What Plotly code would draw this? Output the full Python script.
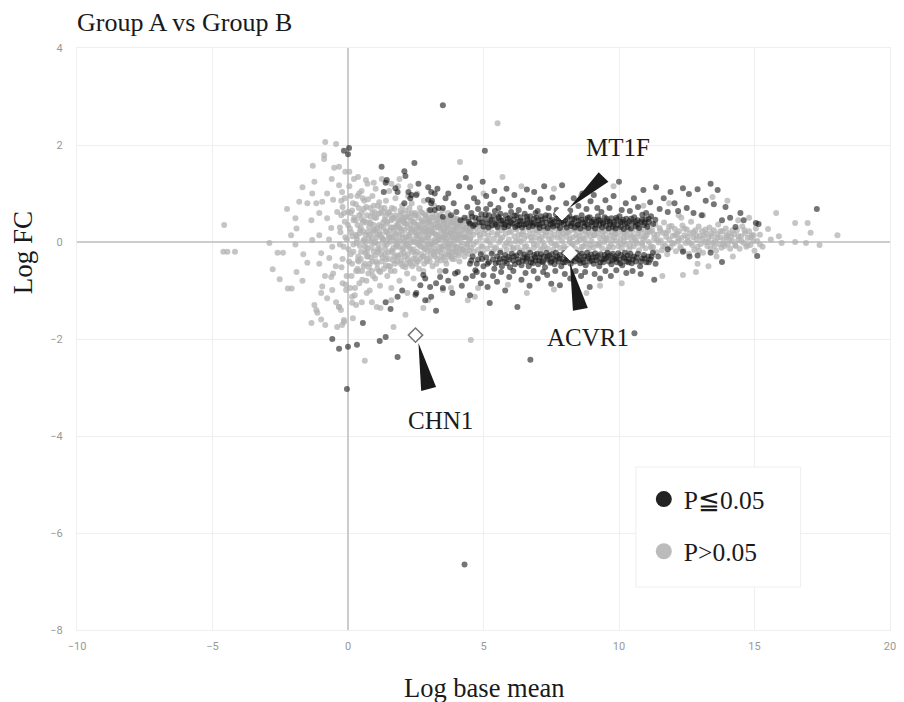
import plotly.graph_objects as go

# ---------------- data ----------------
# non-significant genes (P>0.05): (log base mean, log FC)
gray_left = [
    (-4.57, 0.35), (-4.6, -0.2), (-4.45, -0.2), (-4.17, -0.2), (-2.9, -0.02), (-2.6, -0.22), (-2.4, -0.22),
    (-2.25, 0.68), (-1.94, 0.49), (-1.9, 0.28), (-2.1, 0.14), (-1.94, -0.05), (-1.65, -0.25), (-2.78, -0.56),
    (-2.52, -0.77), (-2.22, -0.96), (-2.08, -0.96), (-1.68, -0.8), (-1.9, -0.62), (-1.35, -1.67), (-1.24, -1.3),
    (-1.17, -1.4), (-1.13, -1.46), (-0.99, -1.6), (-0.84, -1.71), (-0.4, -1.75), (-0.15, -1.65), (0.18, -1.57),
    (-0.33, -1.34), (-0.26, -1.4), (-0.84, 2.06), (-0.44, 2.02), (-0.88, 1.79), (-0.88, 1.71), (-0.51, 1.53),
    (-0.33, 1.55), (-1.3, 1.57), (-1.24, 1.24), (-1.68, 1.13), (-1.32, 1.0), (-1.8, 0.83), (-1.5, 0.8),
    (-1.17, 0.8), (-0.95, 0.83), (-0.77, 1.0), (-0.55, 0.87), (-0.33, 1.17), (-0.22, 1.03), (-1.06, 0.6),
    (-0.77, 0.49), (-1.35, 0.45), (-1.06, 0.14), (-1.32, 0.04), (-0.62, 0.29), (-0.58, -0.1), (-0.99, -0.23),
    (-1.5, -0.43), (-1.06, -0.45), (-0.69, -0.33), (-0.62, -0.72), (-0.95, -0.92), (-0.58, -0.99),
    (-0.99, -1.05), (-0.77, -1.16), (-0.44, -1.24), (-0.33, -1.34), (-0.15, -1.61), (-0.22, -1.71),
    (-0.4, 0.62), (-0.3, 0.3), (-0.45, -0.5), (-0.2, -0.85), (-0.7, 0.05), (-0.25, 0.85), (-0.6, 1.3),
    (-0.1, 1.45), (-0.07, -0.99), (-0.55, -0.65), (-0.3, -0.05), (-0.85, -0.7), (-0.15, 0.6),
    (0.62, -2.45), (0.15, -1.13), (0.51, -1.24), (0.69, -1.05), (0.88, -1.24), (1.06, -1.34), (1.2, -1.36),
    (1.6, -1.2), (1.68, -1.75), (2.12, -1.5), (2.19, -1.05), (2.78, -1.36), (2.96, -1.2), (3.5, -0.99),
    (3.8, -0.95), (4.53, -2.02), (4.42, -1.2), (4.68, -1.13), (5.52, 2.45), (4.13, 1.65), (5.7, 1.34),
]

gray_core = [
    (-0.25, 0.55), (-0.2, -0.35), (-0.12, 0.9), (-0.1, 0.1), (-0.05, -0.7), (0.0, 0.35), (0.02, -0.15),
    (0.05, 1.15), (0.08, -0.95), (0.1, 0.6), (0.12, 0.2), (0.15, -0.45), (0.18, 0.8), (0.2, -0.05),
    (0.22, 1.3), (0.25, -1.1), (0.28, 0.45), (0.3, -0.6), (0.33, 0.05), (0.35, 0.95), (0.38, -0.3),
    (0.4, 0.7), (0.42, -0.85), (0.45, 0.25), (0.48, -0.2), (0.5, 1.05), (0.05, 1.45), (0.3, -1.3),
    (0.15, -1.25), (0.55, 0.4), (0.58, -0.5), (0.6, 0.85), (0.62, -0.1), (0.65, 0.15), (0.68, -0.8),
    (0.7, 0.55), (0.72, 1.2), (0.75, -0.3), (0.78, 0.3), (0.8, -1.0), (0.82, 0.7), (0.85, 0.0),
    (0.88, -0.6), (0.9, 0.95), (0.92, 0.2), (0.95, -0.2), (0.98, 0.5), (1.0, -0.75), (1.02, 1.1),
    (1.05, 0.1), (1.08, -0.45), (1.1, 0.75), (1.12, -0.05), (1.15, 0.35), (1.18, -0.9), (1.2, 0.6),
    (1.22, -0.25), (1.25, 1.3), (1.28, 0.05), (1.32, -0.55), (1.35, 0.45), (1.38, -0.15), (1.4, 0.85),
    (1.42, 0.2), (1.45, -0.7), (1.48, 0.6), (1.5, -0.35), (1.52, 1.05), (1.55, 0.0), (1.58, 0.3),
    (1.6, -0.95), (1.62, 0.7), (1.65, -0.2), (1.68, 0.1), (1.7, 0.5), (1.72, -0.6), (1.75, 0.9),
    (1.78, -0.1), (1.8, 0.35), (1.82, -0.4), (1.85, 1.15), (1.88, 0.15), (1.9, -0.8), (1.92, 0.55),
    (1.95, -0.25), (1.98, 0.25), (2.0, 0.75), (2.02, -0.5), (2.05, 0.0), (2.08, 0.4), (2.1, -0.3),
    (2.12, 0.65), (2.15, 0.1), (2.18, -0.65), (2.2, 0.3), (2.22, 0.95), (2.25, -0.1), (2.28, 0.5),
    (2.3, -0.45), (2.32, 0.2), (2.35, 0.8), (2.38, -0.2), (2.4, 0.05), (2.42, -0.75), (2.45, 0.4),
    (2.48, 0.6), (2.5, -0.35), (2.52, 0.15), (2.55, 1.0), (2.58, -0.05), (2.6, 0.35), (2.62, -0.55),
    (2.65, 0.7), (2.68, 0.0), (2.7, -0.25), (2.72, 0.45), (2.75, 0.2), (2.78, -0.6), (2.8, 0.85),
    (2.82, -0.15), (2.85, 0.3), (2.88, 0.55), (2.9, -0.4), (2.92, 0.1), (2.95, -0.05), (2.98, 0.65),
    (3.0, 0.25), (3.03, -0.3), (3.06, 0.5), (3.09, 0.0), (3.12, -0.5), (3.15, 0.35), (3.18, 0.75),
    (3.21, -0.15), (3.24, 0.15), (3.27, 0.55), (3.3, -0.35), (3.33, 0.05), (3.36, 0.4), (3.39, -0.6),
    (3.42, 0.25), (3.45, -0.1), (3.48, 0.65), (3.51, 0.1), (3.54, -0.3), (3.57, 0.45), (3.6, 0.0),
    (3.63, -0.45), (3.66, 0.3), (3.69, 0.6), (3.72, -0.2), (3.75, 0.15), (3.78, 0.4), (3.81, -0.05),
    (3.84, -0.35), (3.87, 0.25), (3.9, 0.5), (3.93, 0.05), (3.96, -0.25), (3.99, 0.35), (4.02, -0.1),
    (4.05, 0.2), (4.08, 0.45), (4.11, -0.4), (4.14, 0.1), (4.17, -0.15),
    (0.1, -0.25), (0.2, 0.45), (0.3, 0.15), (0.4, -0.4), (0.5, 0.6), (0.6, 0.05), (0.7, -0.2),
    (0.8, 0.4), (0.9, -0.4), (1.0, 0.25), (1.1, -0.2), (1.2, 0.15), (1.3, 0.4), (1.4, -0.35),
    (1.5, 0.15), (1.6, 0.45), (1.7, -0.3), (1.8, 0.05), (1.9, 0.3), (2.0, -0.15), (2.1, 0.5),
    (2.2, -0.05), (2.3, 0.35), (2.4, -0.35), (2.5, 0.25), (2.6, 0.05), (2.7, 0.3), (2.8, -0.3),
    (2.9, 0.2), (3.0, -0.1), (3.1, 0.2), (3.2, 0.05), (3.3, 0.3), (3.4, -0.2), (3.5, 0.35),
    (3.6, 0.15), (3.7, -0.05), (3.8, 0.2), (3.9, -0.15), (4.0, 0.3), (0.15, 0.65), (0.35, -0.55),
    (0.55, 0.9), (0.75, -0.65), (0.95, 0.75), (1.15, -0.6), (1.35, 0.7), (1.55, -0.5), (1.75, 0.3),
    (1.95, 0.45), (2.15, -0.45), (2.35, 0.6), (2.55, -0.2), (2.75, 0.6), (2.95, 0.4), (3.15, -0.2),
    (3.35, 0.5), (3.55, 0.2), (3.75, -0.3), (3.95, 0.15), (0.37, 1.34), (0.66, 1.28), (0.95, 1.22),
    (1.6, 1.2), (1.9, 1.3), (2.3, 1.15),
]

gray_core_dense = [
    (0.32, 0.12), (0.36, -0.38), (0.41, 0.55), (0.44, -0.08), (0.47, 0.3), (0.52, -0.6), (0.56, 0.02),
    (0.59, 0.44), (0.63, -0.22), (0.67, 0.72), (0.7, -0.3), (0.73, 0.2), (0.77, 0.08), (0.8, -0.45),
    (0.84, 0.38), (0.87, -0.12), (0.9, 0.6), (0.94, 0.25), (0.97, -0.02), (1.01, -0.28), (1.04, 0.5),
    (1.08, -0.55), (1.11, 0.15), (1.15, 0.82), (1.18, -0.15), (1.22, 0.32), (1.25, -0.4), (1.29, 0.05),
    (1.32, 0.62), (1.36, -0.25), (1.39, 0.22), (1.43, -0.05), (1.46, 0.42), (1.5, -0.5), (1.53, 0.1),
    (1.57, 0.55), (1.6, -0.18), (1.64, 0.3), (1.67, -0.38), (1.71, 0.68), (1.74, 0.0), (1.78, 0.18),
    (1.81, -0.28), (1.85, 0.45), (1.88, -0.1), (1.92, 0.28), (1.95, -0.45), (1.99, 0.6), (2.02, 0.08),
    (2.06, -0.22), (2.09, 0.38), (2.13, -0.05), (2.16, 0.52), (2.2, -0.35), (2.23, 0.15), (2.27, 0.7),
    (2.3, -0.15), (2.34, 0.25), (2.37, -0.5), (2.41, 0.42), (2.44, 0.0), (2.48, -0.25), (2.51, 0.55),
    (2.55, 0.12), (2.58, -0.4), (2.62, 0.3), (2.65, -0.08), (2.69, 0.62), (2.72, 0.05), (2.76, -0.3),
    (2.79, 0.4), (2.83, -0.12), (2.86, 0.2), (2.9, 0.5), (2.93, -0.35), (2.97, 0.08), (3.0, 0.42),
    (3.04, -0.18), (3.07, 0.28), (3.11, 0.58), (3.14, -0.05), (3.18, 0.18), (3.21, -0.3), (3.25, 0.45),
    (3.28, 0.02), (3.32, -0.2), (3.35, 0.32), (3.39, 0.12), (3.42, -0.38), (3.46, 0.5), (3.49, -0.08),
    (3.53, 0.22), (3.56, 0.4), (3.6, -0.25), (3.63, 0.05), (3.67, 0.35), (3.7, -0.12), (3.74, 0.52),
    (3.77, 0.18), (3.81, -0.3), (3.84, 0.1), (3.88, 0.4), (3.91, -0.05), (3.95, 0.25), (3.98, -0.2),
    (4.02, 0.48), (4.05, 0.05), (4.09, -0.28), (4.12, 0.32), (4.16, 0.15), (4.19, -0.08), (4.23, 0.42),
    (4.26, 0.22), (4.3, -0.3), (4.33, 0.1), (4.37, 0.3), (4.4, -0.12), (4.44, 0.5), (4.47, 0.02),
]

gray_core_fill = [
    (-0.28, 0.2), (-0.24, -0.52), (-0.2, 0.72), (-0.16, -0.1), (-0.12, 0.42), (-0.08, -0.88), (-0.04, 0.05),
    (0.0, 0.62), (0.04, -0.4), (0.07, 0.28), (0.1, 0.95), (0.13, -0.7), (0.16, 0.12), (0.2, -0.2),
    (0.23, 0.5), (0.26, -0.95), (0.29, 0.78), (0.32, -0.02), (0.35, 0.35), (0.38, -0.6), (0.41, 1.0),
    (0.44, 0.18), (0.47, -0.35), (0.5, 0.48), (0.53, -0.78), (0.56, 0.22), (0.59, 0.68), (0.62, -0.45),
    (0.65, 0.0), (0.68, 0.4), (0.71, -0.12), (0.74, 0.88), (0.77, -0.52), (0.8, 0.15), (0.83, 0.52),
    (0.86, -0.32), (0.89, 0.08), (0.92, -0.7), (0.95, 0.35), (0.98, 0.62), (1.01, 0.0), (1.04, -0.4),
    (1.07, 0.28), (1.1, -0.15), (1.13, 0.58), (1.16, 0.2), (1.19, -0.62), (1.22, 0.7), (1.25, 0.1),
    (1.28, -0.32), (1.31, 0.3), (1.34, -0.05), (1.37, 0.52), (1.4, -0.48), (1.43, 0.38), (1.46, 0.05),
    (1.49, -0.22), (1.52, 0.62), (1.55, 0.25), (1.58, -0.6), (1.61, 0.1), (1.64, 0.48), (1.67, -0.12),
    (1.7, 0.2), (1.73, -0.45), (1.76, 0.55), (1.79, 0.32), (1.82, -0.05), (1.85, -0.3), (1.88, 0.4),
    (1.91, 0.02), (1.94, 0.65), (1.97, -0.38), (2.0, 0.15), (2.03, 0.48), (2.06, -0.12), (2.09, 0.25),
    (2.12, -0.52), (2.15, 0.38), (2.18, 0.05), (2.21, -0.25), (2.24, 0.58), (2.27, 0.12), (2.3, -0.4),
    (2.33, 0.45), (2.36, 0.0), (2.39, 0.28), (2.42, -0.15), (2.45, 0.55), (2.48, 0.2), (2.51, -0.45),
    (2.54, 0.35), (2.57, -0.02), (2.6, 0.5), (2.63, 0.15), (2.66, -0.35), (2.69, 0.25), (2.72, -0.1),
    (2.75, 0.42), (2.78, 0.08), (2.81, -0.45), (2.84, 0.55), (2.87, 0.0), (2.9, 0.3), (2.93, -0.2),
    (2.96, 0.45), (2.99, 0.15), (3.02, -0.4), (3.05, 0.38), (3.08, -0.05), (3.11, 0.2), (3.14, 0.5),
    (3.17, -0.25), (3.2, 0.3), (3.23, 0.0), (3.26, -0.45), (3.29, 0.4), (3.32, 0.15), (3.35, -0.1),
    (3.38, 0.55), (3.41, 0.05), (3.44, -0.3), (3.47, 0.3), (3.5, -0.15), (3.53, 0.45), (3.56, 0.1),
    (3.59, -0.38), (3.62, 0.22), (3.65, 0.48), (3.68, -0.1), (3.71, 0.3), (3.74, -0.25), (3.77, 0.05),
    (3.8, 0.42), (3.83, 0.18), (3.86, -0.2), (3.89, 0.32), (3.92, -0.35), (3.95, 0.45), (3.98, 0.08),
    (4.01, -0.12), (4.04, 0.35), (4.07, 0.15), (4.1, -0.22), (4.13, 0.4), (4.16, 0.0), (4.19, 0.25),
    (4.22, -0.15), (4.25, 0.45), (4.28, 0.1), (4.31, -0.2), (4.34, 0.3), (4.37, 0.12), (4.4, -0.05),
    (4.43, 0.38), (4.46, 0.2), (4.49, -0.18), (4.52, 0.08), (4.55, 0.3),
]

gray_band = [
    (4.22, 0.34), (4.25, -0.18), (4.3, 0.1), (4.33, 0.45), (4.37, -0.04), (4.4, 0.24), (4.44, -0.24),
    (4.48, 0.38), (4.5, 0.05), (4.55, -0.12), (4.58, 0.28), (4.62, 0.15), (4.65, -0.2), (4.7, 0.42),
    (4.73, 0.0), (4.77, 0.2), (4.8, -0.16), (4.84, 0.33), (4.88, 0.08), (4.92, -0.08), (4.95, 0.26),
    (4.98, -0.22), (5.02, 0.17), (5.06, 0.38), (5.1, 0.03), (5.14, -0.14), (5.18, 0.13),
    (5.22, 0.32), (5.26, -0.06), (5.3, 0.2), (5.34, -0.2), (5.38, 0.07), (5.42, 0.38), (5.46, -0.11),
    (5.5, 0.15), (5.54, 0.28), (5.58, 0.0), (5.62, -0.18), (5.66, 0.24), (5.7, 0.1), (5.74, 0.35),
    (5.78, -0.08), (5.82, 0.17), (5.86, -0.16), (5.9, 0.3), (5.94, 0.05), (5.98, -0.04), (6.02, 0.22),
    (6.06, 0.37), (6.1, -0.14), (6.14, 0.12), (6.18, 0.01),
    (6.22, 0.26), (6.26, -0.11), (6.3, 0.15), (6.34, 0.34), (6.38, 0.0), (6.42, -0.18), (6.46, 0.2),
    (6.5, 0.07), (6.54, 0.3), (6.58, -0.08), (6.62, 0.13), (6.66, -0.16), (6.7, 0.24), (6.74, 0.36),
    (6.78, 0.03), (6.82, 0.17), (6.86, -0.12), (6.9, 0.28), (6.94, 0.09), (6.98, -0.06), (7.02, 0.2),
    (7.06, 0.32), (7.1, -0.16), (7.14, 0.11), (7.18, 0.0),
    (7.22, 0.23), (7.26, -0.08), (7.3, 0.13), (7.34, 0.31), (7.38, -0.14), (7.42, 0.06), (7.46, 0.19),
    (7.5, -0.02), (7.54, 0.27), (7.58, -0.16), (7.62, 0.15), (7.66, 0.33), (7.7, -0.06), (7.74, 0.09),
    (7.78, 0.21), (7.82, -0.12), (7.86, 0.25), (7.9, 0.02), (7.94, 0.17), (7.98, -0.08), (8.02, 0.29),
    (8.06, 0.11), (8.1, -0.14), (8.14, 0.19), (8.18, 0.0),
    (8.22, 0.24), (8.26, -0.07), (8.3, 0.1), (8.34, 0.26), (8.38, -0.13), (8.42, 0.14), (8.46, 0.0),
    (8.5, 0.3), (8.54, 0.04), (8.58, -0.16), (8.62, 0.2), (8.66, 0.08), (8.7, -0.09), (8.74, 0.24),
    (8.78, -0.03), (8.82, 0.16), (8.86, 0.31), (8.9, -0.13), (8.94, 0.12), (8.98, 0.02), (9.02, 0.22),
    (9.06, -0.11), (9.1, 0.14), (9.14, 0.28), (9.18, -0.05),
    (9.22, 0.18), (9.26, -0.07), (9.3, 0.08), (9.34, 0.26), (9.38, -0.13), (9.42, 0.12), (9.46, 0.0),
    (9.5, 0.22), (9.54, 0.04), (9.58, -0.16), (9.62, 0.29), (9.66, 0.14), (9.7, -0.05), (9.74, 0.2),
    (9.78, -0.11), (9.82, 0.1), (9.86, 0.24), (9.9, 0.02), (9.94, 0.16), (9.98, -0.09), (10.02, 0.27),
    (10.06, 0.06), (10.1, -0.13), (10.14, 0.18), (10.18, 0.0),
    (10.22, 0.2), (10.26, -0.05), (10.3, 0.1), (10.34, 0.27), (10.38, -0.15), (10.42, 0.14), (10.46, 0.02),
    (10.5, 0.24), (10.54, -0.09), (10.58, 0.08), (10.62, 0.31), (10.66, -0.03), (10.7, 0.18), (10.74, -0.17),
    (10.78, 0.12), (10.82, 0.26), (10.86, -0.07), (10.9, 0.06), (10.94, 0.2), (10.98, -0.13), (11.02, 0.14),
    (11.06, 0.33), (11.1, 0.0), (11.14, 0.22), (11.18, -0.09),
    (11.22, 0.25), (11.26, -0.11), (11.3, 0.07), (11.34, 0.36), (11.38, -0.21), (11.42, 0.15), (11.46, -0.01),
    (11.5, 0.29), (11.54, 0.03), (11.58, -0.17), (11.62, 0.19), (11.66, 0.4), (11.7, -0.07), (11.74, 0.11),
    (11.78, -0.25), (11.82, 0.23), (11.86, 0.05), (11.9, -0.11), (11.94, 0.33), (11.98, 0.13), (12.02, -0.03),
    (12.06, 0.27), (12.1, -0.19), (12.14, 0.17), (12.18, 0.01),
    (12.22, 0.22), (12.26, -0.1), (12.3, 0.08), (12.34, 0.34), (12.38, -0.18), (12.42, 0.14), (12.46, -0.02),
    (12.5, 0.26), (12.54, 0.02), (12.58, -0.24), (12.62, 0.18), (12.66, 0.42), (12.7, -0.06), (12.74, 0.1),
    (12.78, -0.16), (12.82, 0.24), (12.86, 0.04), (12.9, -0.1), (12.94, 0.32), (12.98, 0.12), (13.02, -0.04),
    (13.06, 0.22), (13.1, -0.22), (13.14, 0.14), (13.18, 0.0),
    (13.22, 0.18), (13.26, -0.08), (13.3, 0.08), (13.34, 0.3), (13.38, -0.14), (13.42, 0.12), (13.46, -0.02),
    (13.5, 0.24), (13.54, 0.02), (13.58, -0.18), (13.62, 0.16), (13.66, 0.36), (13.7, -0.04), (13.74, 0.1),
    (13.78, -0.12), (13.82, 0.22), (13.86, 0.04), (13.9, -0.08), (13.94, 0.28), (13.98, 0.1), (14.02, -0.04),
    (14.06, 0.18), (14.1, -0.14), (14.14, 0.12), (14.18, 0.02),
    (14.25, 0.16), (14.3, -0.08), (14.35, 0.24), (14.4, 0.04), (14.45, -0.14), (14.5, 0.12), (14.55, 0.32),
    (14.6, -0.02), (14.65, 0.18), (14.7, -0.1), (14.75, 0.08), (14.8, 0.22), (14.85, -0.06), (14.9, 0.14),
    (14.95, 0.02), (15.0, -0.18), (15.05, 0.28),
]

gray_band_dense = [
    (4.52, 0.2), (4.63, -0.05), (4.74, 0.3), (4.86, 0.15), (4.97, -0.1), (5.08, 0.25), (5.19, 0.02),
    (5.31, 0.34), (5.41, -0.14), (5.52, 0.18), (5.63, 0.06), (5.75, 0.3), (5.85, -0.02), (5.96, 0.2),
    (6.08, -0.12), (6.19, 0.28), (6.29, 0.04), (6.41, 0.16), (6.52, -0.1), (6.63, 0.32), (6.75, 0.1),
    (6.85, -0.04), (6.96, 0.24), (7.08, 0.06), (7.19, -0.12), (7.29, 0.2), (7.41, 0.3), (7.52, 0.08),
    (7.63, -0.06), (7.74, 0.26), (7.85, 0.12), (7.96, -0.14), (8.07, 0.2), (8.19, 0.06), (8.29, -0.04),
    (8.41, 0.24), (8.52, 0.12), (8.63, -0.1), (8.74, 0.06), (8.85, 0.2), (8.96, -0.06), (9.07, 0.14),
    (9.19, 0.26), (9.29, -0.02), (9.41, 0.2), (9.52, 0.08), (9.63, -0.1), (9.74, 0.04), (9.85, 0.16),
    (9.96, 0.28), (10.07, -0.04), (10.19, 0.1), (10.29, 0.22), (10.41, -0.08), (10.52, 0.12), (10.63, 0.02),
    (10.74, 0.24), (10.85, -0.02), (10.96, 0.1), (11.07, 0.2), (11.19, -0.12), (11.29, 0.16), (11.41, 0.04),
    (11.52, 0.24), (11.63, -0.08), (11.74, 0.18), (11.85, 0.32), (11.96, -0.02), (12.07, 0.14), (12.19, 0.06),
    (12.29, -0.14), (12.41, 0.28), (12.52, 0.1), (12.63, -0.02), (12.74, 0.2), (12.85, 0.14), (12.96, -0.18),
    (13.07, 0.06), (13.19, 0.26), (13.29, 0.0), (13.41, 0.18), (13.52, -0.08), (13.63, 0.08), (13.74, 0.22),
    (13.85, -0.04), (13.96, 0.14), (14.07, 0.04), (14.19, 0.24), (14.29, -0.06), (14.41, 0.12), (14.52, 0.02),
    (14.63, 0.24), (14.74, -0.06), (14.86, 0.1), (14.97, 0.14), (15.1, 0.02), (15.2, -0.05),
]

gray_scatter = [
    (4.8, -0.95), (5.9, -0.88), (6.6, -1.05), (7.6, -0.98), (8.8, -1.05), (9.3, -0.9), (10.1, -0.85),
    (11.6, -0.7), (12.36, -0.68), (12.84, -0.62), (13.3, -0.5), (5.0, 1.0), (6.4, 1.15), (7.6, 1.1),
    (8.6, 0.95), (9.8, 1.15), (11.85, 0.8), (13.45, 0.93), (12.2, 0.55), (10.9, 0.75), (14.0, 0.85),
    (14.8, 0.5), (15.8, 0.6), (16.5, 0.39), (16.96, 0.39), (17.07, 0.19), (16.0, -0.02), (16.5, 0.0),
    (16.9, -0.02), (17.4, -0.06), (15.9, 0.12), (15.5, 0.27), (18.06, 0.14), (15.3, -0.1), (15.6, 0.05),
    (15.2, 0.15), (12.9, -0.45), (13.6, -0.3), (14.2, -0.3), (12.3, 0.5), (13.1, 0.55), (14.4, 0.45),
]

# significant genes (P<=0.05)
sig_up_band = [
    (4.3, 0.5), (4.4, 0.72), (4.5, 0.38), (4.55, 0.6), (4.62, 0.33), (4.7, 0.5), (4.78, 0.82), (4.85, 0.4),
    (4.92, 0.57), (5.0, 0.32), (5.05, 0.48), (5.1, 0.68), (5.15, 0.38), (5.2, 0.55), (5.25, 0.44),
    (5.32, 0.34), (5.38, 0.53), (5.42, 0.64), (5.47, 0.41), (5.52, 0.31), (5.57, 0.49), (5.62, 0.58),
    (5.67, 0.37), (5.72, 0.45), (5.77, 0.3), (5.82, 0.55), (5.87, 0.41), (5.92, 0.33), (5.97, 0.5),
    (6.02, 0.62), (6.07, 0.38), (6.12, 0.46), (6.17, 0.31), (6.22, 0.55), (6.27, 0.43),
    (6.32, 0.35), (6.37, 0.51), (6.42, 0.3), (6.47, 0.43), (6.52, 0.58), (6.57, 0.37), (6.62, 0.47),
    (6.67, 0.31), (6.72, 0.53), (6.77, 0.4), (6.82, 0.33), (6.87, 0.48), (6.92, 0.6), (6.97, 0.36),
    (7.02, 0.45), (7.07, 0.29), (7.12, 0.53), (7.17, 0.39), (7.22, 0.32), (7.27, 0.49),
    (7.32, 0.4), (7.37, 0.29), (7.42, 0.54), (7.47, 0.36), (7.52, 0.46), (7.57, 0.32), (7.62, 0.42),
    (7.67, 0.57), (7.72, 0.34), (7.77, 0.49), (7.82, 0.29), (7.87, 0.4), (7.92, 0.52), (7.97, 0.36),
    (8.02, 0.45), (8.07, 0.3), (8.12, 0.38), (8.17, 0.54), (8.22, 0.33), (8.27, 0.47),
    (8.32, 0.38), (8.37, 0.3), (8.42, 0.5), (8.47, 0.35), (8.52, 0.44), (8.57, 0.28), (8.62, 0.55),
    (8.67, 0.39), (8.72, 0.32), (8.77, 0.47), (8.82, 0.36), (8.87, 0.29), (8.92, 0.51), (8.97, 0.4),
    (9.02, 0.33), (9.07, 0.46), (9.12, 0.28), (9.17, 0.42), (9.22, 0.53), (9.27, 0.35),
    (9.32, 0.44), (9.37, 0.3), (9.42, 0.38), (9.47, 0.51), (9.52, 0.33), (9.57, 0.43), (9.62, 0.28),
    (9.67, 0.37), (9.72, 0.49), (9.77, 0.31), (9.82, 0.41), (9.87, 0.28), (9.92, 0.46), (9.97, 0.35),
    (10.02, 0.53), (10.07, 0.31), (10.12, 0.41), (10.17, 0.27), (10.22, 0.37), (10.27, 0.48),
    (10.32, 0.31), (10.38, 0.43), (10.44, 0.28), (10.5, 0.39), (10.56, 0.51), (10.62, 0.33), (10.68, 0.45),
    (10.74, 0.29), (10.8, 0.41), (10.86, 0.56), (10.92, 0.35), (10.98, 0.47), (11.04, 0.31), (11.1, 0.41),
    (11.18, 0.53), (11.26, 0.37), (11.34, 0.46),
    (4.46, 0.42), (4.58, 0.52), (4.68, 0.36), (4.83, 0.48), (4.95, 0.4), (5.08, 0.56), (5.18, 0.3),
    (5.3, 0.46), (5.45, 0.36), (5.55, 0.52), (5.65, 0.44), (5.8, 0.36), (5.9, 0.48), (6.0, 0.4),
    (6.15, 0.54), (6.25, 0.34), (6.35, 0.44), (6.5, 0.36), (6.6, 0.52), (6.7, 0.42), (6.85, 0.38),
    (6.95, 0.5), (7.05, 0.36), (7.15, 0.46), (7.3, 0.55), (7.45, 0.44), (7.55, 0.38), (7.7, 0.48),
    (7.8, 0.4), (7.95, 0.44), (8.1, 0.5), (8.25, 0.38), (8.35, 0.48), (8.5, 0.36), (8.6, 0.46),
    (8.75, 0.4), (8.85, 0.5), (9.0, 0.42), (9.15, 0.36), (9.25, 0.46), (9.4, 0.4), (9.55, 0.48),
    (9.65, 0.42), (9.8, 0.36), (9.9, 0.5), (10.05, 0.42), (10.15, 0.46), (10.3, 0.38), (10.45, 0.48),
    (10.6, 0.42), (10.7, 0.36), (10.85, 0.46), (10.95, 0.4), (11.1, 0.48),
]

sig_down_band = [
    (4.5, -0.45), (4.6, -0.3), (4.7, -0.58), (4.8, -0.36), (4.9, -0.25), (5.0, -0.5), (5.1, -0.32),
    (5.2, -0.42), (5.3, -0.24), (5.4, -0.55), (5.5, -0.3), (5.56, -0.42), (5.62, -0.22), (5.68, -0.5),
    (5.74, -0.34), (5.8, -0.27), (5.86, -0.44), (5.92, -0.31), (5.98, -0.52), (6.04, -0.24), (6.1, -0.38),
    (6.16, -0.46), (6.22, -0.28), (6.28, -0.36), (6.34, -0.22), (6.4, -0.48), (6.46, -0.32),
    (6.52, -0.26), (6.57, -0.4), (6.62, -0.3), (6.67, -0.5), (6.72, -0.22), (6.77, -0.35), (6.82, -0.44),
    (6.87, -0.27), (6.92, -0.38), (6.97, -0.24), (7.02, -0.46), (7.07, -0.32), (7.12, -0.25), (7.17, -0.4),
    (7.22, -0.3), (7.27, -0.52), (7.32, -0.22), (7.37, -0.36), (7.42, -0.28), (7.47, -0.43),
    (7.52, -0.25), (7.57, -0.34), (7.62, -0.46), (7.67, -0.22), (7.72, -0.3), (7.77, -0.4), (7.82, -0.27),
    (7.87, -0.5), (7.92, -0.35), (7.97, -0.23), (8.02, -0.42), (8.07, -0.3), (8.12, -0.37), (8.17, -0.24),
    (8.22, -0.45), (8.27, -0.32), (8.32, -0.26), (8.37, -0.4), (8.42, -0.22), (8.47, -0.35),
    (8.52, -0.28), (8.57, -0.44), (8.62, -0.24), (8.67, -0.36), (8.72, -0.3), (8.77, -0.48), (8.82, -0.22),
    (8.87, -0.34), (8.92, -0.4), (8.97, -0.26), (9.02, -0.32), (9.07, -0.45), (9.12, -0.23), (9.17, -0.38),
    (9.22, -0.29), (9.27, -0.5), (9.32, -0.25), (9.37, -0.36), (9.42, -0.42), (9.47, -0.27),
    (9.52, -0.33), (9.57, -0.22), (9.62, -0.4), (9.67, -0.28), (9.72, -0.46), (9.77, -0.24), (9.82, -0.35),
    (9.87, -0.3), (9.92, -0.42), (9.97, -0.23), (10.02, -0.37), (10.07, -0.27), (10.12, -0.48),
    (10.17, -0.32), (10.22, -0.22), (10.27, -0.4), (10.32, -0.28), (10.37, -0.35), (10.42, -0.24),
    (10.47, -0.44), (10.55, -0.3), (10.62, -0.4), (10.7, -0.24), (10.78, -0.5), (10.85, -0.34),
    (10.92, -0.27), (11.0, -0.42), (11.08, -0.3), (11.16, -0.36), (11.25, -0.22), (11.35, -0.45),
    (11.45, -0.3),
    (4.55, -0.38), (4.75, -0.45), (4.95, -0.35), (5.15, -0.45), (5.35, -0.36), (5.45, -0.44), (5.6, -0.35),
    (5.78, -0.4), (5.95, -0.36), (6.12, -0.3), (6.3, -0.42), (6.45, -0.38), (6.6, -0.34), (6.75, -0.42),
    (6.9, -0.32), (7.05, -0.38), (7.2, -0.42), (7.35, -0.32), (7.5, -0.4), (7.65, -0.36), (7.8, -0.34),
    (7.95, -0.42), (8.1, -0.34), (8.25, -0.38), (8.4, -0.32), (8.55, -0.38), (8.7, -0.42), (8.85, -0.3),
    (9.0, -0.38), (9.15, -0.32), (9.3, -0.42), (9.45, -0.35), (9.6, -0.3), (9.75, -0.38), (9.9, -0.34),
    (10.05, -0.44), (10.2, -0.34), (10.35, -0.42), (10.5, -0.36), (10.65, -0.32), (10.8, -0.4),
    (10.95, -0.34), (11.1, -0.42), (11.2, -0.3),
]

sig_scatter = [
    (2.3, 0.9), (2.6, 1.2), (3.1, 0.85), (3.3, 1.1), (3.5, 0.7), (3.7, 1.0), (3.9, 0.8), (4.1, 1.15),
    (4.35, 1.32), (4.5, 1.13), (4.65, 0.9), (4.8, 0.68), (4.97, 1.24), (5.1, 0.95), (5.25, 0.78),
    (5.4, 1.05), (5.55, 0.7), (5.7, 0.88), (5.85, 1.1), (6.0, 0.75), (6.14, 0.97), (6.3, 0.66),
    (6.45, 0.85), (6.6, 1.08), (6.75, 0.72), (6.87, 1.03), (7.0, 0.64), (7.1, 0.88), (7.24, 1.15),
    (7.4, 0.7), (7.55, 0.92), (7.7, 0.66), (7.9, 1.17), (8.05, 0.8), (8.2, 0.65), (8.33, 0.9),
    (8.5, 0.74), (8.65, 1.0), (8.8, 0.68), (8.95, 0.84), (9.07, 0.97), (9.2, 0.7), (9.35, 0.62),
    (9.5, 0.86), (9.65, 0.7), (9.8, 0.95), (10.0, 1.24), (10.1, 0.66), (10.25, 0.8), (10.4, 0.64),
    (10.55, 0.9), (10.7, 0.72), (10.9, 1.07), (11.0, 0.6), (11.15, 0.82), (11.37, 1.13), (11.5, 0.68),
    (11.65, 0.9), (11.8, 0.62), (11.9, 1.03), (12.05, 0.8), (12.18, 0.64), (12.36, 1.11), (12.5, 0.7),
    (12.58, 0.99), (12.75, 0.6), (12.9, 1.09), (13.05, 0.55), (13.2, 0.85), (13.38, 1.2), (13.5, 0.78),
    (13.64, 1.07), (13.8, 0.45), (13.93, 0.72), (14.1, 0.5), (14.3, 0.31), (14.48, 0.6), (14.6, 0.45),
    (15.05, 0.39), (15.15, 0.37), (17.3, 0.68),
    (-0.15, 1.88), (0.04, 1.94), (0.0, 1.81), (1.24, 1.55), (1.43, 1.28), (1.39, 1.22), (2.08, 1.46),
    (2.12, 1.36), (2.45, 1.63), (1.32, 1.03), (1.75, 1.11), (1.83, 1.03), (2.23, 1.03), (2.34, 0.97),
    (2.52, 0.97), (2.08, 0.8), (2.96, 1.13), (3.07, 1.03), (3.2, 1.0), (2.96, 0.87), (3.07, 0.8),
    (3.03, 0.66), (3.2, 0.66), (3.34, 0.7), (3.5, 0.52), (3.6, 0.9), (3.5, 2.82), (5.05, 1.88),
    (3.8, 0.55), (4.0, 0.62), (4.15, 0.45),
    (2.49, -1.09), (2.67, -0.89), (2.78, -0.68), (2.85, -0.75), (2.85, -1.2), (3.07, -1.13), (3.03, -0.93),
    (3.25, -0.85), (3.25, -1.42), (3.4, -0.72), (3.5, -0.95), (3.6, -0.6), (3.7, -0.8), (3.85, -1.05),
    (3.95, -0.65), (4.05, -0.62), (4.2, -0.9), (4.35, -0.75), (4.5, -1.1), (4.6, -0.7), (4.75, -0.62),
    (4.9, -0.85), (5.0, -0.68), (5.15, -0.93), (5.23, -1.26), (5.35, -0.7), (5.5, -0.82), (5.65, -0.62),
    (5.8, -1.0), (5.95, -0.72), (6.1, -0.6), (6.25, -1.34), (6.4, -0.78), (6.55, -0.64), (6.7, -0.9),
    (6.85, -0.6), (7.0, -0.75), (7.2, -0.62), (7.35, -0.68), (7.5, -0.86), (7.65, -0.6), (7.82, -0.89),
    (8.0, -0.66), (8.2, -0.75), (8.4, -0.6), (8.6, -0.7), (8.75, -0.62), (8.92, -0.93), (9.1, -0.66),
    (9.3, -0.75), (9.5, -0.6), (9.7, -0.7), (9.9, -0.58), (10.27, -0.64), (10.5, -0.6), (10.8, -0.66),
    (11.3, -0.78), (11.8, -0.15), (12.36, -0.2), (12.6, -0.3), (12.9, -0.28), (13.38, -0.22),
    (13.8, -0.41), (15.1, -0.29), (0.55, -1.67), (-0.58, -2.0), (-0.33, -2.2), (0.0, -2.16), (0.33, -2.12),
    (-0.04, -3.03), (1.17, -2.04), (1.39, -1.96), (1.83, -2.37), (1.39, -1.24), (1.57, -1.38),
    (1.83, -1.13), (2.52, -1.05), (2.0, -1.0), (6.73, -2.43), (10.57, -1.88), (4.3, -6.65),
]

# highlighted genes
genes = ["MT1F", "ACVR1", "CHN1"]
gene_x = [7.9, 8.2, 2.49]
gene_y = [0.6, -0.23, -1.92]

# ---------------- figure ----------------
gray_pts = (gray_left + gray_core + gray_core_dense + gray_core_fill
            + gray_band + gray_band_dense + gray_scatter)
sig_pts = sig_up_band + sig_down_band + sig_scatter

GRAY = "rgba(178,178,178,0.75)"
DARK = "rgba(25,25,25,0.6)"
SERIF = "Liberation Serif"
INK = "#1a1a1a"

fig = go.Figure()
fig.add_trace(go.Scatter(
    x=[p[0] for p in gray_pts], y=[p[1] for p in gray_pts], mode="markers",
    marker=dict(size=6, color=GRAY, line=dict(width=0)), showlegend=False, hoverinfo="skip"))
fig.add_trace(go.Scatter(
    x=[p[0] for p in sig_pts], y=[p[1] for p in sig_pts], mode="markers",
    marker=dict(size=6, color=DARK, line=dict(width=0)), showlegend=False, hoverinfo="skip"))
fig.add_trace(go.Scatter(
    x=gene_x, y=gene_y, mode="markers", showlegend=False,
    marker=dict(symbol="diamond", size=11, color="white",
                line=dict(width=[1, 1, 1.5], color=["white", "white", "#777777"]))))

# legend keys
fig.add_trace(go.Scatter(x=[None], y=[None], mode="markers", name="P≦0.05", legendgroup="a",
                         marker=dict(size=16, color="#222222")))
fig.add_trace(go.Scatter(x=[None], y=[None], mode="markers", name="P>0.05", legendgroup="b",
                         marker=dict(size=16, color="#bbbbbb")))

# callout wedges + labels (offsets relative to each highlighted gene)
callouts = {
    "MT1F": dict(tip=(0.26, 0.1), b1=(1.35, 0.84), b2=(1.71, 0.64), text=(2.05, 1.34)),
    "ACVR1": dict(tip=(-0.01, -0.2), b1=(0.1, -1.19), b2=(0.65, -1.13), text=(0.65, -1.73)),
    "CHN1": dict(tip=(0.11, -0.16), b1=(0.21, -1.15), b2=(0.76, -1.07), text=(0.91, -1.75)),
}
shapes = []
annotations = []
for g, gx, gy in zip(genes, gene_x, gene_y):
    c = callouts[g]
    pts = [(gx + c[k][0], gy + c[k][1]) for k in ("tip", "b1", "b2")]
    path = "M {} {} L {} {} L {} {} Z".format(*[v for p in pts for v in p])
    shapes.append(dict(type="path", path=path, xref="x", yref="y",
                       fillcolor=INK, line=dict(width=0)))
    annotations.append(dict(x=gx + c["text"][0], y=gy + c["text"][1], xref="x", yref="y",
                            text=g, showarrow=False,
                            font=dict(family=SERIF, size=25, color=INK)))

# legend frame
shapes.append(dict(type="rect", xref="paper", yref="paper", layer="above",
                   x0=(640 - 77) / 819, x1=(806 - 77) / 819,
                   y0=(630 - 587) / 582, y1=(630 - 467) / 582,
                   fillcolor="white", line=dict(color="#eeeeee", width=1)))

annotations.append(dict(x=0.5, y=-0.1, xref="paper", yref="paper", text="Log base mean",
                        showarrow=False, yanchor="middle",
                        font=dict(family=SERIF, size=26.5, color=INK)))
annotations.append(dict(x=-0.066, y=0.648, xref="paper", yref="paper", text="Log FC",
                        showarrow=False, textangle=-90, xanchor="center", yanchor="middle",
                        font=dict(family=SERIF, size=27, color=INK)))

axis_common = dict(showgrid=True, gridcolor="#efefef", gridwidth=1,
                   zeroline=True, zerolinecolor="#cccccc", zerolinewidth=1.5,
                   showline=True, linecolor="#efefef", linewidth=1, mirror=True,
                   ticks="outside", tickcolor="white",
                   tickfont=dict(family="Roboto", size=11, color="#999999"))

fig.update_layout(
    width=904, height=702,
    margin=dict(l=77, r=8, t=48, b=72),
    paper_bgcolor="white", plot_bgcolor="white",
    title=dict(text="Group A vs Group B", xref="container", yref="container",
               x=77 / 904, xanchor="left", y=1 - 22 / 702, yanchor="middle",
               font=dict(family=SERIF, size=26, color=INK)),
    xaxis=dict(range=[-10, 20], dtick=5, tick0=0, ticklen=6, **axis_common),
    yaxis=dict(range=[-8, 4], dtick=2, tick0=0, ticklen=11, **axis_common),
    shapes=shapes,
    annotations=annotations,
    legend=dict(x=(648 - 77) / 819, y=(630 - 476) / 582, xanchor="left", yanchor="top",
                bgcolor="rgba(0,0,0,0)", borderwidth=0,
                font=dict(family=SERIF, size=25.5, color=INK),
                tracegroupgap=16, itemsizing="trace"),
)

fig.write_html("out.html")
